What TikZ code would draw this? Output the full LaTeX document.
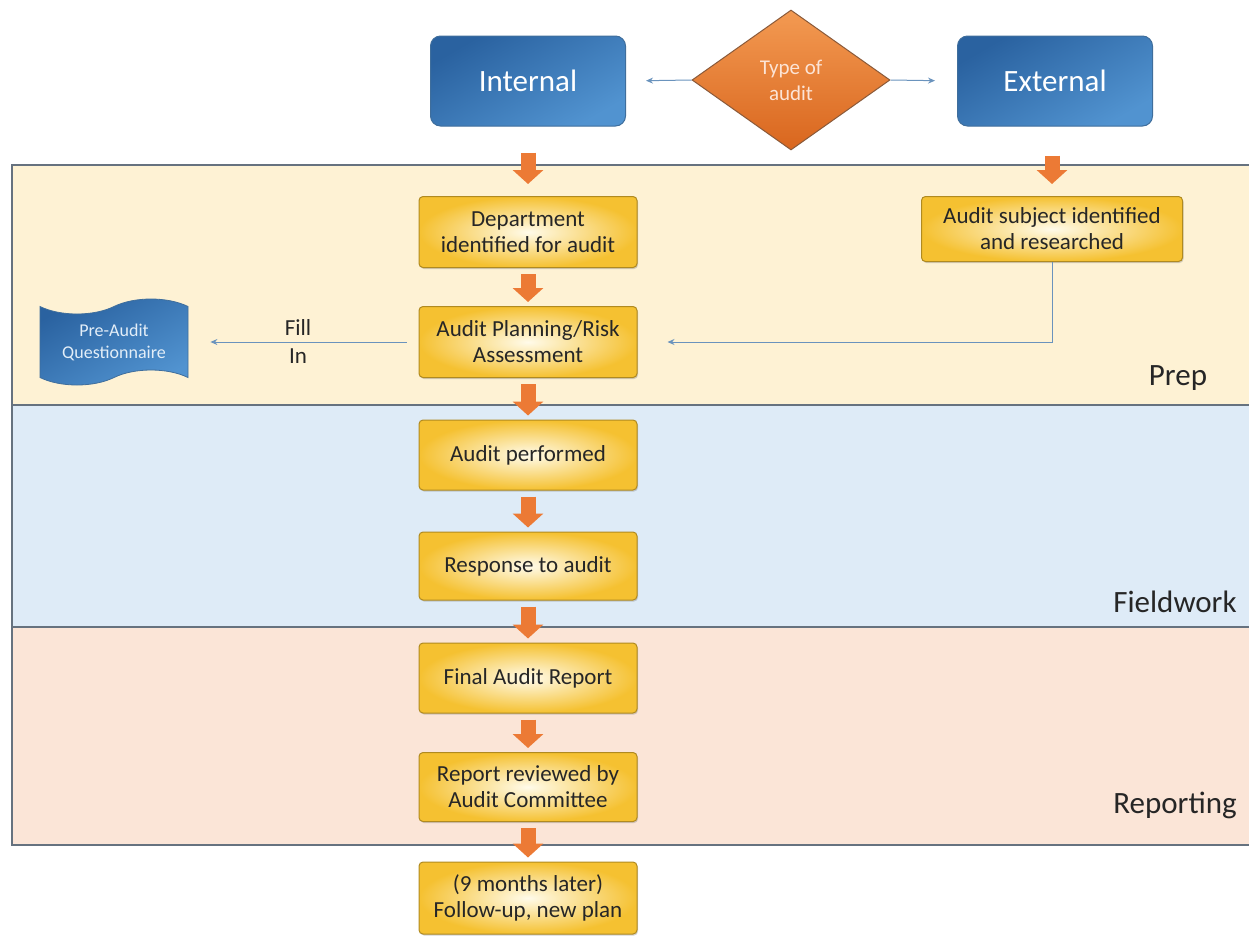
\documentclass[tikz,border=0pt]{standalone}
\usepackage{fontspec}
\setmainfont{Carlito}
\usetikzlibrary{shapes.geometric,shapes.symbols,arrows.meta,shadows,calc}
\definecolor{prepbg}{HTML}{FEF2D4}
\definecolor{fieldbg}{HTML}{DEEBF7}
\definecolor{repbg}{HTML}{FBE5D7}
\definecolor{bandline}{HTML}{66727F}
\definecolor{bluedark}{HTML}{2A62A0}
\definecolor{bluelight}{HTML}{5193D0}
\definecolor{blueedge}{HTML}{3F6E9C}
\definecolor{orangetop}{HTML}{F39A52}
\definecolor{orangebot}{HTML}{D9661E}
\definecolor{orangeedge}{HTML}{8A5A3A}
\definecolor{orangefill}{HTML}{EC7A35}
\definecolor{goldin}{HTML}{FFFBEA}
\definecolor{goldout}{HTML}{F5C131}
\definecolor{goldedge}{HTML}{B08A20}
\definecolor{txt}{HTML}{262626}
\definecolor{thinarrow}{HTML}{6A93BD}
\definecolor{lighttext}{HTML}{FCE4D6}
\definecolor{paleblue}{HTML}{E3EEF8}
\tikzset{
  ybox/.style={draw=goldedge, line width=1pt, rounded corners=4pt, minimum width=218pt,
    inner color=goldin, outer color=goldout, text=txt, align=center,
    font=\fontsize{23}{26}\selectfont,
    drop shadow={opacity=0.35, shadow xshift=1pt, shadow yshift=-1.5pt}},
  bbox/.style={draw=blueedge, line width=1pt, rounded corners=10pt, minimum width=195pt, minimum height=90pt,
    top color=bluedark, bottom color=bluelight, shading angle=30, text=white,
    font=\fontsize{31}{36}\selectfont},
  oarrow/.style={draw=orangefill, line width=15pt, -{Triangle[length=14pt,width=30pt]},
    shorten <=6pt, shorten >=4pt},
  tarrow/.style={draw=thinarrow, line width=1pt, -{Stealth[length=7pt,width=6pt]}},
  bandlabel/.style={text=txt, font=\fontsize{31}{36}\selectfont},
}
\begin{document}
\begin{tikzpicture}[x=1pt,y=-1pt]
\useasboundingbox (0,0) rectangle (1249,935);
% bands
\fill[prepbg] (12,165) rectangle (1249,405);
\fill[fieldbg] (12,405) rectangle (1249,627);
\fill[repbg] (12,627) rectangle (1249,845);
\draw[bandline, line width=1.5pt] (1249,165) -- (12,165) -- (12,845) -- (1249,845);
\draw[bandline, line width=1.5pt] (12,405) -- (1249,405);
\draw[bandline, line width=1.5pt] (12,627) -- (1249,627);
\node[bandlabel] (prep) at (1178,378) {Prep};
\node[bandlabel] (fieldwork) at (1175,602) {Fieldwork};
\node[bandlabel] (reporting) at (1175,805) {Reporting};
% top row
\node[bbox] (int) at (528,81) {Internal};
\node[bbox] (ext) at (1055,81) {External};
\node[diamond, draw=orangeedge, line width=1pt, minimum width=198pt, minimum height=140pt, inner sep=0pt,
  top color=orangetop, bottom color=orangebot, text=lighttext, align=center,
  font=\fontsize{21}{26}\selectfont] (type) at (791,80) {Type of\\audit};
\draw[tarrow, shorten >=20pt] (type.west) -- (int.east);
\draw[tarrow, shorten >=22pt] (type.east) -- (ext.west);
% main column
\node[ybox, minimum height=71pt] (dept) at (528,232) {Department\\identified for audit};
\node[ybox, minimum height=71pt] (plan) at (528,342) {Audit Planning/Risk\\Assessment};
\node[ybox, minimum height=70pt] (perf) at (528,455) {Audit performed};
\node[ybox, minimum height=68pt] (resp) at (528,566) {Response to audit};
\node[ybox, minimum height=70pt] (final) at (528,678) {Final Audit Report};
\node[ybox, minimum height=69pt] (rev) at (528,787) {Report reviewed by\\Audit Committee};
\node[ybox, minimum height=72pt] (follow) at (528,898) {(9 months later)\\Follow-up, new plan};
\node[ybox, minimum width=261pt, minimum height=65pt] (subj) at (1052,229) {Audit subject identified\\and researched};
% questionnaire
\node[tape, tape bend top=in and out, tape bend bottom=in and out, tape bend height=15pt,
  draw=blueedge, line width=0.8pt, minimum width=148pt, minimum height=86pt, inner xsep=2pt,
  top color=bluedark, bottom color=bluelight, shading angle=30, text=paleblue, align=center,
  font=\fontsize{18}{22}\selectfont] (preq) at (114,342) {Pre-Audit\\Questionnaire};
% orange arrows
\draw[oarrow, shorten <=26pt, shorten >=12pt] (int.south) -- (dept.north);
\draw[oarrow, shorten <=29pt, shorten >=12pt] (ext.south -| subj.north) -- (subj.north);
\draw[oarrow] (dept.south) -- (plan.north);
\draw[oarrow] (plan.south) -- (perf.north);
\draw[oarrow] (perf.south) -- (resp.north);
\draw[oarrow] (resp.south) -- (final.north);
\draw[oarrow] (final.south) -- (rev.north);
\draw[oarrow] (rev.south) -- (follow.north);
% thin connectors
\coordinate (fillend) at (plan.west -| preq.east);
\draw[tarrow, shorten <=12pt, shorten >=22pt] (plan.west) -- (fillend);
\node[text=txt, align=center, font=\fontsize{23}{28}\selectfont] (fillin) at (298,342) {Fill\\In};
\coordinate (bend) at (subj.south |- plan.east);
\draw[tarrow, shorten >=30pt] (subj.south) -- (bend) -- (plan.east);
\end{tikzpicture}
\end{document}
